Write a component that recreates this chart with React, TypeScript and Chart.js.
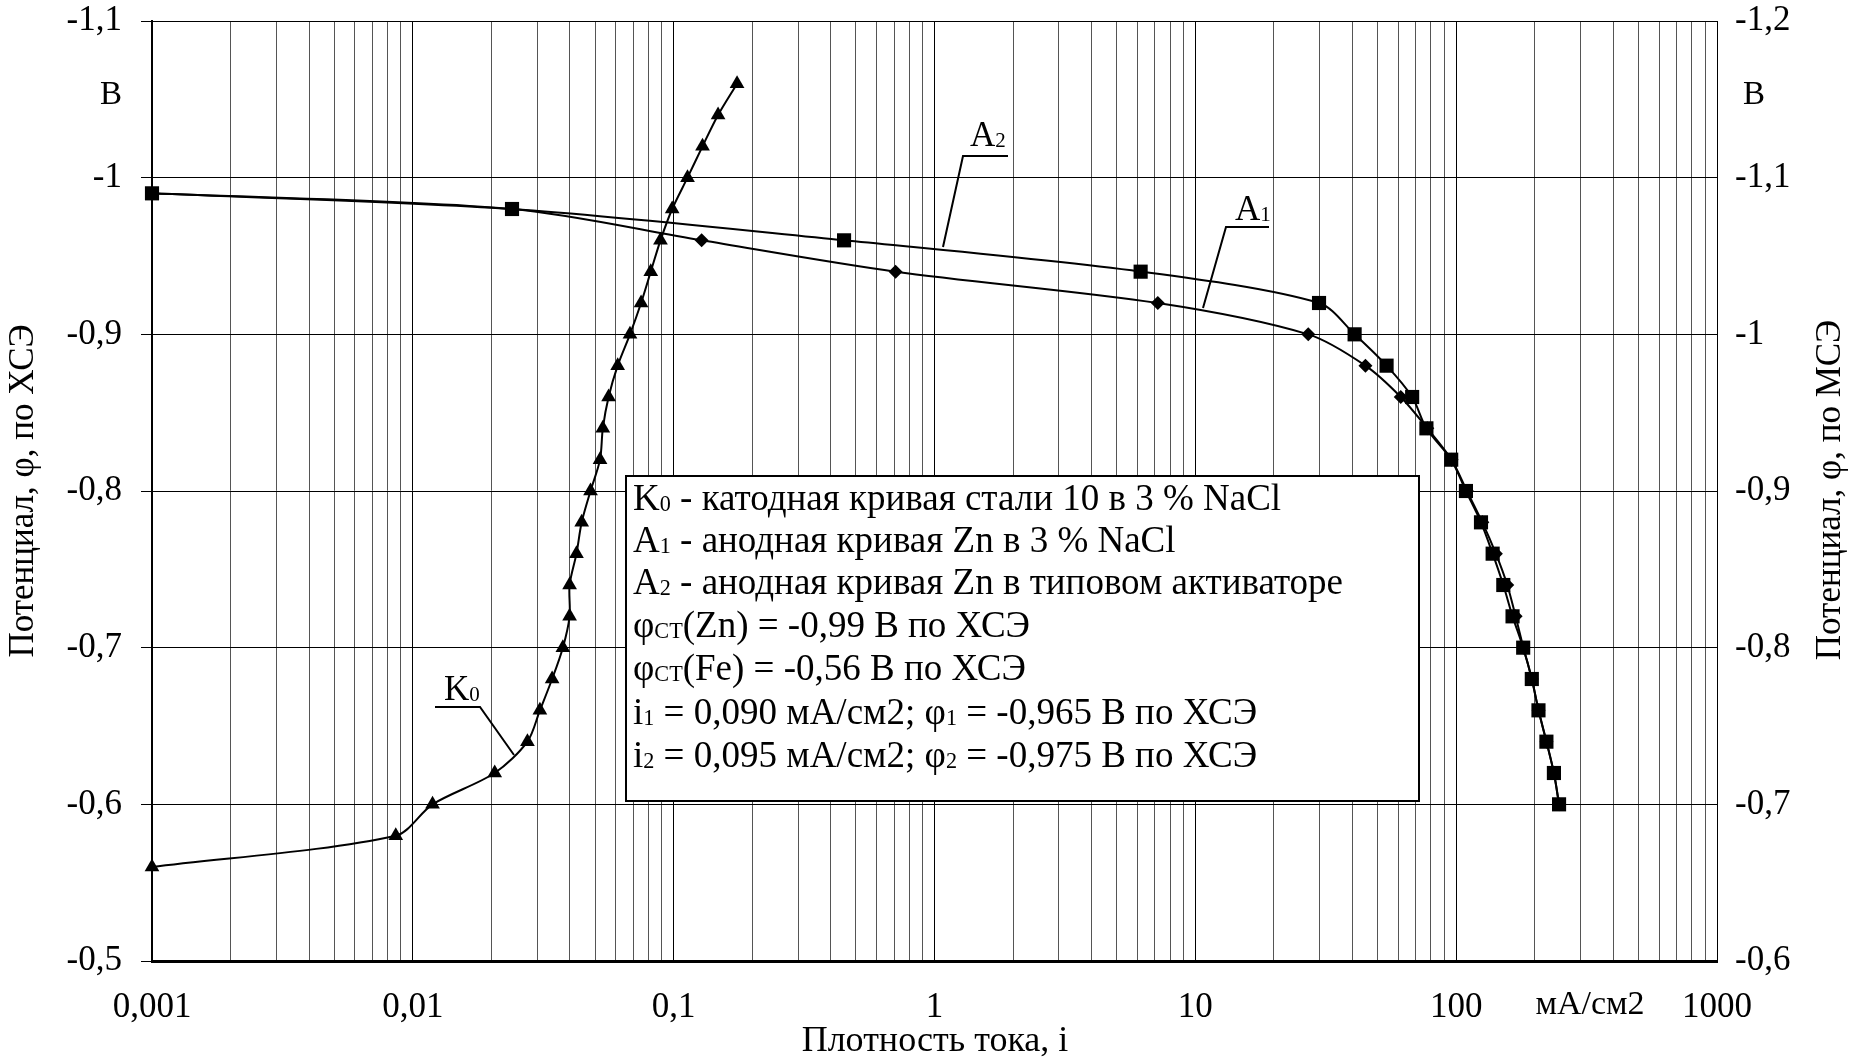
import React, { useEffect, useRef } from 'react';
import { Chart, registerables } from 'chart.js';
Chart.register(...registerables);

const FONT = "'Liberation Serif', 'Times New Roman', serif";

// Cathodic curve K0 (steel 10 in 3% NaCl)
const k0Current = [0.001, 0.0086, 0.0119, 0.0206, 0.0275, 0.0307, 0.0342, 0.0376, 0.0399, 0.0399, 0.0424, 0.0444, 0.048, 0.0522, 0.0535, 0.0563, 0.061, 0.068, 0.075, 0.0817, 0.089, 0.0987, 0.113, 0.129, 0.148, 0.175];
const k0Potential = [-0.56, -0.58, -0.6, -0.62, -0.64, -0.66, -0.68, -0.7, -0.72, -0.74, -0.76, -0.78, -0.8, -0.82, -0.84, -0.86, -0.88, -0.9, -0.92, -0.94, -0.96, -0.98, -1.0, -1.02, -1.04, -1.06];

// Anodic curve A1 (Zn in 3% NaCl)
const a1Current = [0.001, 0.024, 0.128, 0.709, 7.18, 27.1, 44.9, 61.3, 77.5, 96, 110, 126, 142, 157, 169, 181, 195, 207, 222, 237, 248];
const a1Potential = [-0.99, -0.98, -0.96, -0.94, -0.92, -0.9, -0.88, -0.86, -0.84, -0.82, -0.8, -0.78, -0.76, -0.74, -0.72, -0.7, -0.68, -0.66, -0.64, -0.62, -0.6];

// Anodic curve A2 (Zn in typical activator)
const a2Current = [0.001, 0.024, 0.45, 6.17, 29.8, 40.8, 54.1, 67.8, 76.9, 95.7, 109, 124.5, 138, 151.6, 164.5, 180.7, 195, 206.8, 221.8, 237, 248];
const a2Potential = [-0.99, -0.98, -0.96, -0.94, -0.92, -0.9, -0.88, -0.86, -0.84, -0.82, -0.8, -0.78, -0.76, -0.74, -0.72, -0.7, -0.68, -0.66, -0.64, -0.62, -0.6];

const xTickLabels = ['0,001', '0,01', '0,1', '1', '10', '100', '1000'];
const xDecades = [-3, -2, -1, 0, 1, 2];

const leftTitle = 'Потенциал, φ, по ХСЭ';
const rightTitle = 'Потенциал, φ, по МСЭ';
const xTitle = 'Плотность тока, i';
const unitLabel = 'мА/см2';
const voltLabel = 'В';

type Seg = { t: string; sub?: boolean };
const legendLines: Seg[][] = [
  [{ t: 'K' }, { t: '0', sub: true }, { t: ' - катодная кривая стали 10 в 3 % NaCl' }],
  [{ t: 'A' }, { t: '1', sub: true }, { t: ' - анодная кривая Zn в 3 % NaCl' }],
  [{ t: 'A' }, { t: '2', sub: true }, { t: ' - анодная кривая Zn в типовом активаторе' }],
  [{ t: 'φ' }, { t: 'СТ', sub: true }, { t: '(Zn) = -0,99 В по ХСЭ' }],
  [{ t: 'φ' }, { t: 'СТ', sub: true }, { t: '(Fe) = -0,56 В по ХСЭ' }],
  [{ t: 'i' }, { t: '1', sub: true }, { t: ' = 0,090 мА/см2; φ' }, { t: '1', sub: true }, { t: ' = -0,965 В по ХСЭ' }],
  [{ t: 'i' }, { t: '2', sub: true }, { t: ' = 0,095 мА/см2; φ' }, { t: '2', sub: true }, { t: ' = -0,975 В по ХСЭ' }],
];

const xTicks: number[] = [];
xDecades.forEach((e) => {
  for (let k = 1; k <= 9; k++) xTicks.push(Number((k * Math.pow(10, e)).toPrecision(6)));
});
xTicks.push(1000);

const isMajor = (v: number) => {
  const l = Math.log10(v);
  return Math.abs(l - Math.round(l)) < 1e-6;
};

const fmtY = (v: number) => String(Math.round(v * 10) / 10).replace('.', ',');

function drawRich(ctx: CanvasRenderingContext2D, segs: Seg[], x: number, yc: number, size: number) {
  const base = yc + size * 0.33;
  let cx = x;
  ctx.textAlign = 'left';
  ctx.textBaseline = 'alphabetic';
  segs.forEach((s) => {
    const sz = s.sub ? size * 0.6 : size;
    ctx.font = `${sz}px ${FONT}`;
    ctx.fillText(s.t, cx, base + (s.sub ? size * 0.03 : 0));
    cx += ctx.measureText(s.t).width;
  });
}

function line(ctx: CanvasRenderingContext2D, pts: number[][]) {
  ctx.beginPath();
  ctx.moveTo(pts[0][0], pts[0][1]);
  for (let i = 1; i < pts.length; i++) ctx.lineTo(pts[i][0], pts[i][1]);
  ctx.stroke();
}

const extras = {
  id: 'extras',
  afterDraw(chart: any) {
    const ctx: CanvasRenderingContext2D = chart.ctx;
    ctx.save();
    ctx.fillStyle = '#000';
    ctx.strokeStyle = '#000';

    // Legend box
    ctx.fillStyle = '#fff';
    ctx.fillRect(626, 476, 793, 325);
    ctx.lineWidth = 2;
    ctx.strokeRect(626, 476, 793, 325);
    ctx.fillStyle = '#000';
    const lineY = [498, 540, 582, 625, 668, 712, 755];
    legendLines.forEach((segs, i) => drawRich(ctx, segs, 633, lineY[i], 37));

    // Curve labels with leaders
    ctx.lineWidth = 2;
    drawRich(ctx, [{ t: 'A' }, { t: '2', sub: true }], 970, 134, 35);
    line(ctx, [[1008, 156], [963, 156], [943, 247]]);
    drawRich(ctx, [{ t: 'A' }, { t: '1', sub: true }], 1235, 208, 35);
    line(ctx, [[1269, 227], [1226, 227], [1203, 308]]);
    drawRich(ctx, [{ t: 'K' }, { t: '0', sub: true }], 444, 688, 35);
    line(ctx, [[435, 707], [480, 707], [514, 755]]);

    // Units
    ctx.font = `33px ${FONT}`;
    ctx.textBaseline = 'middle';
    ctx.textAlign = 'right';
    ctx.fillText(voltLabel, 122, 95);
    ctx.textAlign = 'left';
    ctx.fillText(voltLabel, 1743, 95);
    ctx.font = `34px ${FONT}`;
    ctx.textAlign = 'center';
    ctx.fillText(unitLabel, 1590, 1005);

    // Titles
    ctx.font = `36px ${FONT}`;
    ctx.fillText(xTitle, 935, 1042);
    ctx.font = `35px ${FONT}`;
    ctx.save();
    ctx.translate(24, 491);
    ctx.rotate(-Math.PI / 2);
    ctx.fillText(leftTitle, 0, 0);
    ctx.restore();
    ctx.save();
    ctx.translate(1831, 490);
    ctx.rotate(-Math.PI / 2);
    ctx.fillText(rightTitle, 0, 0);
    ctx.restore();

    ctx.restore();
  },
};

const zeroVPad = (w: number) => (s: any) => {
  s.width = w;
  s.paddingTop = 0;
  s.paddingBottom = 0;
};

export default function App() {
  const ref = useRef<HTMLCanvasElement | null>(null);
  useEffect(() => {
    let chart: Chart | null = null;
    let cancelled = false;
    const make = () => {
      if (cancelled || !ref.current) return;
      const mk = (xs: number[], ys: number[]) => xs.map((x, i) => ({ x, y: ys[i] }));
      chart = new Chart(ref.current, {
        type: 'line',
        data: {
          datasets: [
            {
              label: 'A2',
              data: mk(a2Current, a2Potential),
              borderColor: '#000',
              backgroundColor: '#000',
              borderWidth: 2,
              pointStyle: 'rect',
              pointRadius: 10,
              pointBorderWidth: 0,
              tension: 0.3,
              clip: false,
              yAxisID: 'y',
            },
            {
              label: 'A1',
              data: mk(a1Current, a1Potential),
              borderColor: '#000',
              backgroundColor: '#000',
              borderWidth: 2,
              pointStyle: 'rectRot',
              pointRadius: 7,
              pointBorderWidth: 0,
              tension: 0.3,
              clip: false,
              yAxisID: 'y',
            },
            {
              label: 'K0',
              data: mk(k0Current, k0Potential),
              borderColor: '#000',
              backgroundColor: '#000',
              borderWidth: 2,
              pointStyle: 'triangle',
              pointRadius: 8.5,
              pointBorderWidth: 0,
              tension: 0.3,
              clip: false,
              yAxisID: 'y',
            },
          ],
        },
        options: {
          animation: false,
          responsive: false,
          layout: { padding: { top: 21, left: 0, right: 0, bottom: 0 } },
          plugins: { legend: { display: false }, tooltip: { enabled: false } },
          scales: {
            x: {
              type: 'logarithmic',
              position: 'bottom',
              min: 0.001,
              max: 1000,
              afterBuildTicks: (s: any) => {
                s.ticks = xTicks.map((v) => ({ value: v }));
              },
              afterFit: (s: any) => {
                s.height = 97;
                s.paddingLeft = 0;
                s.paddingRight = 0;
              },
              ticks: {
                autoSkip: false,
                maxRotation: 0,
                minRotation: 0,
                padding: 26,
                color: '#000',
                font: { family: FONT, size: 35 },
                callback: (v: any) => {
                  const n = Number(v);
                  return isMajor(n) ? xTickLabels[Math.round(Math.log10(n)) + 3] : '';
                },
              },
              grid: {
                color: (c: any) => (c.tick && isMajor(c.tick.value) ? '#000' : '#555'),
                lineWidth: 1,
                drawTicks: false,
              },
              border: { display: true, color: '#000', width: 3 },
            },
            y: {
              type: 'linear',
              position: 'left',
              min: -1.1,
              max: -0.5,
              reverse: true,
              afterFit: zeroVPad(152),
              ticks: {
                stepSize: 0.1,
                padding: 19,
                color: '#000',
                font: { family: FONT, size: 35 },
                callback: (v: any) => fmtY(Number(v)),
              },
              grid: { color: '#000', lineWidth: 1, drawTicks: true, tickLength: 11 },
              border: { display: true, color: '#000', width: 2 },
            },
            y2: {
              type: 'linear',
              position: 'right',
              min: -1.2,
              max: -0.6,
              reverse: true,
              afterFit: zeroVPad(139),
              ticks: {
                stepSize: 0.1,
                padding: 18,
                color: '#000',
                font: { family: FONT, size: 35 },
                callback: (v: any) => fmtY(Number(v)),
              },
              grid: { drawOnChartArea: false, drawTicks: false },
              border: { display: true, color: '#000', width: 1 },
            },
          },
        } as any,
        plugins: [extras],
      });
    };
    const f: any = (document as any).fonts;
    if (f && f.load) {
      f.load(`32px "Liberation Serif"`).then(make, make);
    } else make();
    return () => {
      cancelled = true;
      if (chart) chart.destroy();
    };
  }, []);
  return (
    <div style={{ position: 'absolute', left: 0, top: 0, width: 1856, height: 1058, background: '#fff' }}>
      <canvas ref={ref} width={1856} height={1058} style={{ display: 'block' }} />
    </div>
  );
}
